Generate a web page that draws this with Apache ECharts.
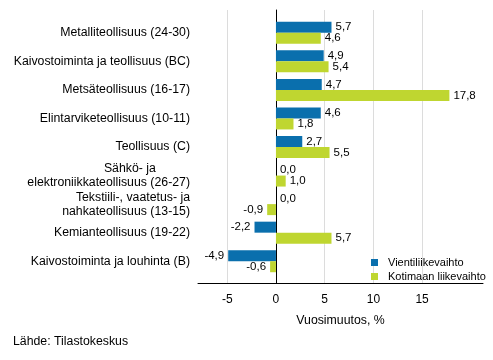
<!DOCTYPE html>
<html>
<head>
<meta charset="utf-8">
<script src="https://cdn.jsdelivr.net/npm/echarts@6/dist/echarts.min.js"></script>
<style>html,body{margin:0;padding:0;background:#fff}#c{width:493px;height:360px}</style>
</head>
<body>
<div id="c"></div>
<script>
const categories = [
  "Metalliteollisuus (24-30)",
  "Kaivostoiminta ja teollisuus (BC)",
  "Metsäteollisuus (16-17)",
  "Elintarviketeollisuus (10-11)",
  "Teollisuus (C)",
  "Sähkö- ja          \nelektroniikkateollisuus (26-27)",
  "Tekstiili-, vaatetus- ja\nnahkateollisuus (13-15)",
  "Kemianteollisuus (19-22)",
  "Kaivostoiminta ja louhinta (B)"
];
const seriesNames = ["Vientiliikevaihto", "Kotimaan liikevaihto"];
const vienti = [5.7, 4.9, 4.7, 4.6, 2.7, 0.0, 0.0, -2.2, -4.9];
const kotimaa = [4.6, 5.4, 17.8, 1.8, 5.5, 1.0, -0.9, 5.7, -0.6];
const tickValues = [-5, 0, 5, 10, 15];
const axisTitle = "Vuosimuutos, %";
const sourceText = "Lähde: Tilastokeskus";

const FONT = "Arial, 'Liberation Sans', sans-serif";
const colors = ["#0a6fad", "#bfd630"];
const XMIN = -8, XMAX = 21.25;

function toData(arr) {
  return arr.map(v => ({ value: v, label: { position: v < 0 ? 'left' : 'right' } }));
}
function fmt(p) { return p.value.toFixed(1).replace('.', ','); }

const chart = echarts.init(document.getElementById('c'), null, { renderer: 'canvas' });
chart.setOption({
  animation: false,
  color: colors,
  textStyle: { fontFamily: FONT },
  grid: [
    { left: 198, right: 10, top: 10, bottom: 76.5 },
    { left: 198, right: 10, top: 18.5, bottom: 84.5 }
  ],
  xAxis: [
    {
      gridIndex: 0, type: 'value', min: XMIN, max: XMAX,
      axisLine: { show: true, onZero: false, lineStyle: { color: '#000', width: 1 } },
      axisTick: { show: false, customValues: tickValues },
      axisLabel: { customValues: tickValues, color: '#000', fontSize: 12, margin: 10, fontFamily: FONT,
        formatter: v => String(v) },
      splitLine: { show: true, lineStyle: { color: '#dcdcdc', width: 1 } },
      name: axisTitle, nameLocation: 'middle', nameGap: 31,
      nameTextStyle: { color: '#000', fontSize: 12.3, fontFamily: FONT }
    },
    {
      gridIndex: 1, type: 'value', min: XMIN, max: XMAX, show: false
    }
  ],
  yAxis: [
    {
      gridIndex: 0, type: 'value', min: 0, max: 1,
      axisLine: { show: true, onZero: true, lineStyle: { color: '#000', width: 1 } },
      axisTick: { show: false }, axisLabel: { show: false }, splitLine: { show: false }
    },
    {
      gridIndex: 1, type: 'category', data: categories, inverse: true,
      axisLine: { show: false }, axisTick: { show: false },
      axisLabel: { color: '#000', fontSize: 12.3, margin: 8, lineHeight: 14, fontFamily: FONT, align: 'right' },
      splitLine: { show: false }
    }
  ],
  legend: {
    orient: 'vertical', left: 366, top: 252, itemWidth: 7, itemHeight: 7, itemGap: 3,
    icon: 'rect', textStyle: { color: '#000', fontSize: 11, fontFamily: FONT, padding: [0, 0, 0, 5] },
    data: seriesNames
  },
  series: [
    {
      name: seriesNames[0], type: 'bar', xAxisIndex: 1, yAxisIndex: 1,
      data: toData(vienti), barWidth: 11, barGap: '0%',
      label: { show: true, distance: 4, color: '#000', fontSize: 11.5, fontFamily: FONT, formatter: fmt }
    },
    {
      name: seriesNames[1], type: 'bar', xAxisIndex: 1, yAxisIndex: 1,
      data: toData(kotimaa), barWidth: 11, barGap: '0%',
      label: { show: true, distance: 4, color: '#000', fontSize: 11.5, fontFamily: FONT, formatter: fmt }
    }
  ],
  graphic: [
    { type: 'text', left: 13, top: 336, style: { text: sourceText, fill: '#000', font: '12.3px ' + FONT } }
  ]
});
</script>
</body>
</html>
